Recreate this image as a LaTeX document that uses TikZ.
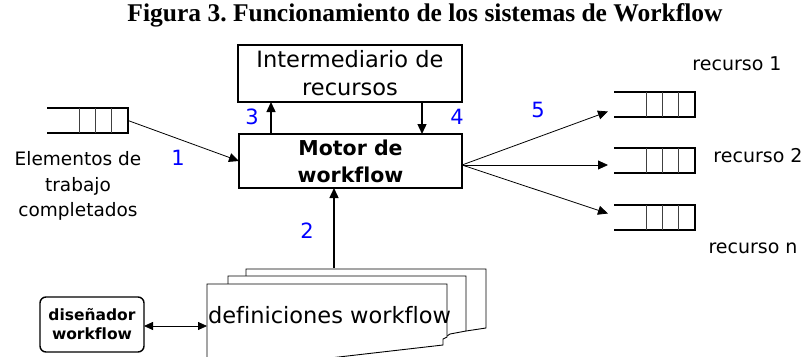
\documentclass[tikz,border=0pt]{standalone}
\usepackage{fontspec}
\setmainfont{Liberation Serif}
\newfontfamily\comic[Ligatures=CommonOff]{DejaVu Sans}
\usetikzlibrary{arrows.meta,calc}
\tikzset{
  every node/.style={inner sep=0pt, outer sep=0pt},
  lbl/.style={font=\comic\fontsize{18.5}{25.5}\selectfont, align=center},
  num/.style={font=\comic\fontsize{21}{24}\selectfont, text={rgb,255:red,0;green,0;blue,255}},
  rlabel/.style={font=\comic\fontsize{19}{22}\selectfont},
  qbox/.style={minimum width=81pt, minimum height=25pt},
  qline/.style={line width=1.8pt},
  qdiv/.style={line width=0.9pt, black!75},
  arr/.style={-{Triangle[length=10pt,width=9pt]}, line width=0.8pt},
  arrb/.style={-{Triangle[length=10pt,width=9pt]}, line width=1.4pt},
  page/.style={line width=0.9pt, fill=white},
}
\newcommand\queuebox[3]{%
  \node[qbox, anchor=north west] (#1) at (#2,#3) {};
  \draw[qline] (#1.north west) -- (#1.north east) -- (#1.south east) -- (#1.south west);
  \foreach \d in {32,48,64} \draw[qdiv] ($(#1.north west)+(\d,0)$) -- ($(#1.south west)+(\d,0)$);
}
\frenchspacing
\begin{document}
\begin{tikzpicture}[x=1pt,y=-1pt]
\useasboundingbox (0,0) rectangle (811,356);

% title
\node[font=\bfseries\fontsize{25.5}{28}\selectfont] (title) at (425,15) {Figura 3. Funcionamiento de los sistemas de Workflow};

% intermediario and motor
\node[draw, line width=1.8pt, minimum width=224pt, minimum height=57pt, align=center, font=\comic\fontsize{22.5}{28}\selectfont] (inter) at (350,73.5) {Intermediario de\\recursos};
\node[draw, line width=2.8pt, minimum width=223pt, minimum height=54pt, align=center, font=\comic\bfseries\fontsize{20.5}{27}\selectfont] (motor) at (350.5,161) {Motor de\\workflow};

\coordinate (c3) at (271,0);
\coordinate (c4) at (422,0);
\draw[arrb] (c3 |- motor.north) -- (c3 |- inter.south);
\draw[arrb] (c4 |- inter.south) -- (c4 |- motor.north);
\node[num] (n3) at (252,117) {3};
\node[num] (n4) at (457,117) {4};

% left queue
\queuebox{q0}{47}{108}
\node[lbl] (elem) at (78,186) {Elementos de\\trabajo\\completados};
\draw[arr] (q0.east) -- (motor.west);
\node[num] (n1) at (178,158) {1};

% right queues
\queuebox{q1}{614}{92}
\queuebox{q2}{614}{148}
\queuebox{q3}{614}{205}
\coordinate (fan) at ($(motor.east)+(0,4)$);
\draw[arr] (fan) -- ($(q1.west)+(-6,7)$);
\draw[arr] (fan) -- ($(fan -| q2.west)+(-6,0)$);
\draw[arr] (fan) -- ($(q3.west)+(-6,-4)$);
\node[num] (n5) at (538,110) {5};
\node[rlabel] (r1) at (737,64) {recurso 1};
\node[rlabel] (r2) at (758,156) {recurso 2};
\node[rlabel] (rn) at (753,248) {recurso n};

% definiciones stack
\draw[page] (246,276) -- (246,269) -- (486,269) -- (486,328) -- (466,331);
\draw[page] (228,284) -- (228,276) -- (466,276) -- (466,331) -- (450,334) -- (447,336);
\draw[page] (207,358) -- (207,284) -- (447,284) -- (447,337) -- (443,339) -- (443,345) -- (330,358);
\node[anchor=west, font=\comic\fontsize{22.5}{26}\selectfont] (defs) at (208,315) {definiciones workflow};
\coordinate (d2) at (334,268);
\draw[arrb] (d2) -- (d2 |- motor.south);
\node[num] (n2) at (307,231) {2};

% disenador
\node[draw, line width=1.4pt, rounded corners=6pt, minimum width=104pt, minimum height=55pt, align=center, font=\comic\bfseries\fontsize{15.5}{19}\selectfont] (dis) at (92,324.5) {diseñador\\workflow};
\coordinate (dd) at (207,326);
\draw[{Triangle[length=9pt,width=8pt]}-{Triangle[length=9pt,width=8pt]}, line width=0.8pt] (dis.east |- dd) -- (dd);
\end{tikzpicture}
\end{document}
